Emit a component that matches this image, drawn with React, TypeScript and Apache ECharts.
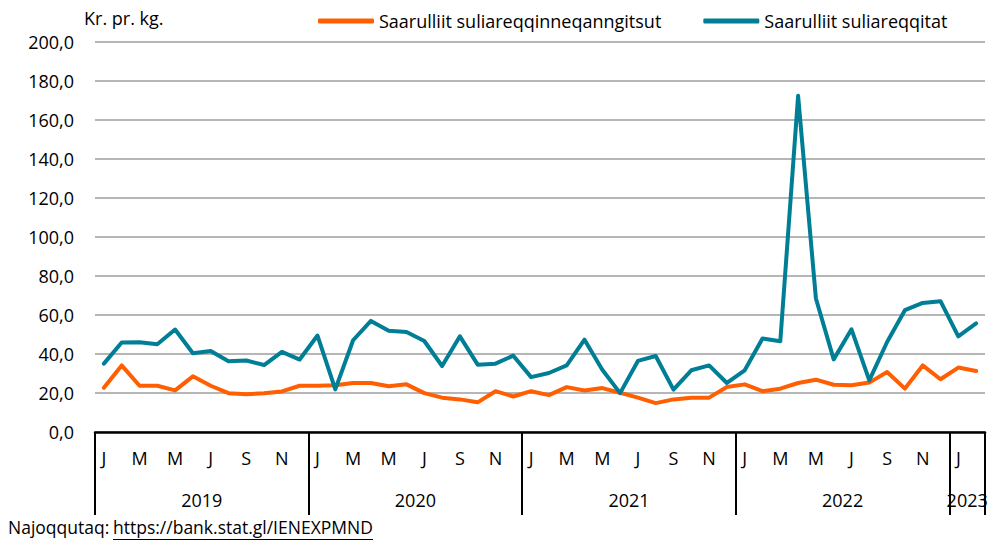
import React, { useEffect, useRef } from "react";
import * as echarts from "echarts";

const monthLetters = ["J", "F", "M", "A", "M", "J", "J", "A", "S", "O", "N", "D"];
const years = ["2019", "2020", "2021", "2022", "2023"];
const monthsPerYear = [12, 12, 12, 12, 2];

const seriesNames = ["Saarulliit suliareqqinneqanngitsut", "Saarulliit suliareqqitat"];

const unprocessed = [
  22.7, 34.1, 23.7, 23.7, 21.3, 28.5, 23.7, 19.9, 19.3, 19.9, 20.8, 23.7,
  23.7, 23.9, 25.1, 25.1, 23.4, 24.4, 19.9, 17.6, 16.7, 15.2, 20.9, 18.2,
  20.9, 18.9, 23.0, 21.3, 22.5, 20.1, 17.6, 14.8, 16.7, 17.6, 17.6, 23.0,
  24.4, 20.9, 22.2, 25.1, 26.8, 24.2, 23.9, 25.3, 30.7, 22.2, 34.1, 27.0,
  33.0, 31.2,
];

const processed = [
  35.0, 45.8, 46.0, 44.9, 52.5, 40.3, 41.5, 36.2, 36.6, 34.3, 41.0, 37.1,
  49.4, 21.8, 47.0, 56.9, 51.8, 51.2, 46.6, 33.8, 49.0, 34.5, 35.0, 39.1,
  28.1, 30.2, 34.1, 47.3, 31.9, 19.9, 36.4, 38.9, 21.7, 31.6, 34.1, 25.1,
  31.6, 47.9, 46.5, 172.2, 68.4, 37.2, 52.6, 26.4, 46.1, 62.4, 66.1, 67.0,
  49.0, 55.6,
];

const yTicks = { min: 0, max: 200, interval: 20 };

const FONT = "'Open Sans', sans-serif";

export default function App() {
  const ref = useRef<HTMLDivElement>(null);

  useEffect(() => {
    if (!ref.current) return;
    const chart = echarts.init(ref.current, null, { renderer: "svg" });

    const categories: string[] = [];
    monthsPerYear.forEach((n) => {
      for (let m = 0; m < n; m++) categories.push(monthLetters[m]);
    });

    const yearCenters: Record<number, string> = {};
    let start = 0;
    years.forEach((y, i) => {
      yearCenters[start + monthsPerYear[i] / 2] = y;
      start += monthsPerYear[i];
    });
    const yearBoundaries = new Set<number>();
    let acc = 0;
    monthsPerYear.forEach((n) => {
      yearBoundaries.add(acc);
      acc += n;
    });

    const option: any = {
      animation: false,
      textStyle: { fontFamily: FONT },
      grid: { left: 95, right: 13, top: 41.5, bottom: 114, containLabel: false },
      legend: {
        left: 313,
        top: 7,
        itemWidth: 56,
        itemHeight: 5,
        itemGap: 42,
        icon: "roundRect",
        textStyle: { fontFamily: FONT, fontSize: 18, color: "#000" },
        data: seriesNames,
      },
      xAxis: [
        {
          type: "category",
          data: categories,
          boundaryGap: true,
          position: "bottom",
          axisLine: { show: true, lineStyle: { color: "#000", width: 2.5 } },
          axisTick: {
            show: true,
            length: 83,
            interval: (index: number) => yearBoundaries.has(index),
            lineStyle: { color: "#000", width: 2 },
          },
          axisLabel: {
            interval: (index: number) => index % 2 === 0,
            margin: 17,
            fontFamily: FONT,
            fontSize: 18,
            color: "#000",
          },
          splitLine: { show: false },
        },
        {
          type: "value",
          min: 0,
          max: acc,
          interval: 1,
          position: "bottom",
          axisLine: { show: false },
          axisTick: { show: false },
          splitLine: { show: false },
          axisLabel: {
            margin: 59,
            fontFamily: FONT,
            fontSize: 18,
            color: "#000",
            showMinLabel: true,
            showMaxLabel: true,
            formatter: (v: number) => yearCenters[v] ?? "",
          },
        },
      ],
      yAxis: {
        type: "value",
        min: yTicks.min,
        max: yTicks.max,
        interval: yTicks.interval,
        axisLine: { show: false },
        axisTick: { show: false },
        axisLabel: {
          margin: 21,
          fontFamily: FONT,
          fontSize: 18,
          color: "#000",
          formatter: (v: number) => v.toFixed(1).replace(".", ","),
        },
        splitLine: { show: true, lineStyle: { color: "#9e9e9e", width: 1.5 } },
      },
      series: [
        {
          name: seriesNames[0],
          type: "line",
          data: unprocessed,
          xAxisIndex: 0,
          symbol: "none",
          lineStyle: { color: "#FF5F00", width: 4, cap: "round", join: "round" },
          itemStyle: { color: "#FF5F00" },
        },
        {
          name: seriesNames[1],
          type: "line",
          data: processed,
          xAxisIndex: 0,
          symbol: "none",
          lineStyle: { color: "#007E95", width: 4, cap: "round", join: "round" },
          itemStyle: { color: "#007E95" },
        },
      ],
      graphic: [
        {
          type: "text",
          left: 84,
          top: 9,
          style: { text: "Kr. pr. kg.", fontFamily: FONT, fontSize: 18, fill: "#000" },
        },
        {
          type: "text",
          left: 8,
          top: 518,
          style: { text: "Najoqqutaq:", fontFamily: FONT, fontSize: 17.5, fill: "#000" },
        },
        {
          type: "text",
          left: 113,
          top: 518,
          style: { text: "https://bank.stat.gl/IENEXPMND", fontFamily: FONT, fontSize: 17.5, fill: "#000" },
        },
        {
          type: "line",
          shape: { x1: 113, y1: 539.5, x2: 373, y2: 539.5 },
          style: { stroke: "#000", lineWidth: 1 },
        },
      ],
    };

    chart.setOption(option);
    return () => chart.dispose();
  }, []);

  return <div ref={ref} style={{ width: 998, height: 546, position: "absolute", left: 0, top: 0 }} />;
}
